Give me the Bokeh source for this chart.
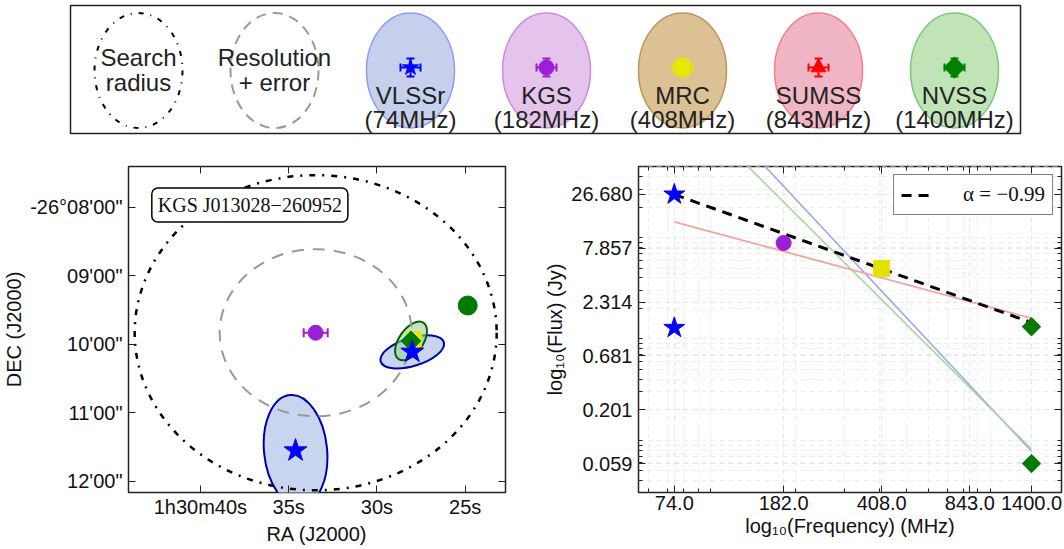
import numpy as np
from bokeh.plotting import figure
from bokeh.layouts import column, row
from bokeh.models import (Range1d, FixedTicker, LinearAxis, LogAxis, Label, Legend,
                          LegendItem, Whisker, ColumnDataSource, TeeHead, CustomJSTickFormatter)
from bokeh.embed import file_html
from bokeh.resources import INLINE
from bokeh.core.properties import value

FONT = "Liberation Sans"
SERIF = "Liberation Serif"

# ---------------- data ----------------
legend_names = ["VLSSr", "KGS", "MRC", "SUMSS", "NVSS"]
legend_freqs = ["(74MHz)", "(182MHz)", "(408MHz)", "(843MHz)", "(1400MHz)"]
legend_markers = ["star", "circle", "square", "triangle", "square"]
legend_marker_angles = [0.0, 0.0, 0.0, 0.0, 0.785398]
marker_colors = ["#0000ff", "#9a1fd6", "#e8e800", "#ff0000", "#008000"]
patch_fill = ["#c6d0ec", "#e4c4ea", "#dcc194", "#f1b6c6", "#c0e4b8"]
patch_edge = ["#8c9cf6", "#c98ae6", "#b8955c", "#f77c84", "#7cc67c"]

# sky map (RA seconds after 01h30m, Dec arcmin below -26 deg)
ra_ticks = [40, 35, 30, 25]
ra_tick_labels = ["1h30m40s", "35s", "30s", "25s"]
dec_ticks = [-8, -9, -10, -11, -12]
dec_tick_labels = ["-26\u00b008'00\"", "09'00\"", "10'00\"", "11'00\"", "12'00\""]
cos_dec = np.cos(np.radians(26.16))

kgs_ra = [33.47]
kgs_dec = [-9.83]
kgs_ra_err = [0.68]
search_radius_arcmin = 2.3
resolution_radius_arcmin = 1.22

vlssr_ra = [34.61, 28.00]
vlssr_dec = [-11.55, -10.11]
vlssr_ell_w = [3.57, 3.74]     # RA seconds
vlssr_ell_h = [1.63, 0.41]     # arcmin
vlssr_ell_ang = [0.10, 0.30]

nvss_ra = [28.07]
nvss_dec = [-9.95]
nvss_ell_w = [2.49]
nvss_ell_h = [0.35]
nvss_ell_ang = [0.96]
nvss2_ra = [24.86]
nvss2_dec = [-9.433]
mrc_ra = [27.91]
mrc_dec = [-9.927]

# spectrum
vlssr_freq = [74, 74]
vlssr_flux = [26.68, 1.29]
kgs_freq = [182]
kgs_flux = [8.86]
mrc_freq = [408]
mrc_flux = [4.97]
nvss_freq = [1400, 1400]
nvss_flux = [1.32, 0.059]
fit_freq = [74, 1400]
fit_flux = [26.68, 1.45]
pink_freq = [74, 1400]
pink_flux = [14.3, 1.60]
blue_freq = [74, 1400]
blue_flux = [456.0, 0.078]
green_freq = [74, 1400]
green_flux = [267.0, 0.082]
freq_ticks = [74, 182, 408, 843, 1400]
flux_ticks = [26.680, 7.857, 2.314, 0.681, 0.201, 0.059]
fit_label = "\u03b1 = \u22120.99"
source_name = "KGS J013028\u2212260952"

W = 1062

# ---------------- top legend strip ----------------
p0 = figure(frame_width=W, frame_height=157, x_range=Range1d(0, W), y_range=Range1d(157, 0),
            min_border=0, x_axis_location=None, y_axis_location=None,
            output_backend="svg", toolbar_location=None)
p0.grid.visible = False
p0.outline_line_color = None
p0.quad(left=[70], right=[1020], top=[5], bottom=[133], fill_color=None,
        line_color="#222222", line_width=1.5)
step = 136.0
cxs = [138 + i * step for i in range(7)]
cy = 70
p0.ellipse(x=[cxs[0]], y=[cy], width=[88], height=[115], fill_color=None,
           line_color="black", line_width=2, line_dash="5 7 1 7")
p0.ellipse(x=[cxs[1]], y=[cy], width=[88], height=[115], fill_color=None,
           line_color="#999999", line_width=2, line_dash="10 7")
p0.text(x=[cxs[0], cxs[0], cxs[1], cxs[1]], y=[57, 82, 57, 82],
        text=["Search", "radius", "Resolution", "+ error"],
        text_align="center", text_baseline="middle", text_font=value(FONT),
        text_font_size="24px", text_color="#222222")
for i, name in enumerate(legend_names):
    x = cxs[i + 2]
    p0.ellipse(x=[x], y=[cy], width=[88], height=[115], fill_color=patch_fill[i],
               line_color=patch_edge[i], line_width=1.5)
    my = 67
    c = marker_colors[i]
    p0.segment(x0=[x - 10, x, x - 10, x + 10, x - 4, x - 4],
               y0=[my, my - 9, my - 4, my - 4, my - 9, my + 9],
               x1=[x + 10, x, x - 10, x + 10, x + 4, x + 4],
               y1=[my, my + 9, my + 4, my + 4, my - 9, my + 9],
               line_color=c, line_width=2)
    p0.scatter(x=[x], y=[my], marker=legend_markers[i], angle=legend_marker_angles[i],
               size=15 if legend_markers[i] != "star" else 17,
               fill_color=c, line_color=c)
    p0.text(x=[x, x], y=[95, 119], text=[name, legend_freqs[i]],
            text_align="center", text_baseline="middle", text_font=value(FONT),
            text_font_size="24px", text_color="#222222")


def style_axis(ax, size="20px", standoff=6):
    ax.major_label_text_font = FONT
    ax.major_label_text_font_size = size
    ax.major_label_text_color = "#111111"
    ax.axis_label_text_font = FONT
    ax.axis_label_text_font_size = "20px"
    ax.axis_label_text_font_style = "normal"
    ax.axis_label_text_color = "#111111"
    ax.major_tick_in = 7
    ax.major_tick_out = 0
    ax.minor_tick_in = 4
    ax.minor_tick_out = 0
    ax.major_tick_line_color = "#222222"
    ax.minor_tick_line_color = "#222222"
    ax.axis_line_color = None
    ax.major_label_standoff = standoff
    ax.axis_label_standoff = 2


def mirror_axis(cls, ticker):
    return cls(ticker=ticker, formatter=CustomJSTickFormatter(code="return '';"),
               major_label_text_font_size="1px", major_label_standoff=0,
               major_tick_in=7, major_tick_out=0, minor_tick_in=4, minor_tick_out=0,
               axis_line_color=None, major_tick_line_color="#222222",
               minor_tick_line_color="#222222")


# ---------------- left: sky map ----------------
p1 = figure(frame_width=377, frame_height=326,
            x_range=Range1d(44.07, 22.72), y_range=Range1d(-12.162, -7.404),
            min_border_left=126, min_border_right=20, min_border_top=9, min_border_bottom=56,
            output_backend="svg", toolbar_location=None)
p1.grid.visible = False
p1.outline_line_color = "#222222"
p1.outline_line_width = 1.5

p1.ellipse(x=vlssr_ra, y=vlssr_dec, width=vlssr_ell_w, height=vlssr_ell_h, angle=vlssr_ell_ang,
           fill_color="#c9d5ee", line_color="#0000aa", line_width=2)
p1.ellipse(x=nvss_ra, y=nvss_dec, width=nvss_ell_w, height=nvss_ell_h, angle=nvss_ell_ang,
           fill_color="#9fd09a", fill_alpha=0.6, line_color="#006400", line_width=2)
sr_w = 2 * search_radius_arcmin * 60 / (15 * cos_dec)
rr_w = 2 * resolution_radius_arcmin * 60 / (15 * cos_dec)
p1.ellipse(x=kgs_ra, y=kgs_dec, width=[sr_w], height=[2 * search_radius_arcmin],
           fill_color=None, line_color="black", line_width=2.5, line_dash="6 7 2 7")
p1.ellipse(x=kgs_ra, y=kgs_dec, width=[rr_w], height=[2 * resolution_radius_arcmin],
           fill_color=None, line_color="#999999", line_width=2, line_dash="12 9")

kgs_src = ColumnDataSource(dict(y=kgs_dec,
                                lo=[r - e for r, e in zip(kgs_ra, kgs_ra_err)],
                                hi=[r + e for r, e in zip(kgs_ra, kgs_ra_err)]))
p1.add_layout(Whisker(source=kgs_src, base="y", lower="lo", upper="hi", dimension="width",
                      line_color="#9a1fd6", line_width=2,
                      lower_head=TeeHead(size=9, line_color="#9a1fd6", line_width=2),
                      upper_head=TeeHead(size=9, line_color="#9a1fd6", line_width=2)))
p1.scatter(x=kgs_ra, y=kgs_dec, marker="circle", size=15, fill_color="#9a1fd6", line_color="#9a1fd6")
p1.scatter(x=nvss2_ra, y=nvss2_dec, marker="circle", size=19, fill_color="#007a00", line_color="#007a00")
p1.scatter(x=mrc_ra, y=mrc_dec, marker="square", size=15, fill_color="#e8e800", line_color="#e8e800")
p1.scatter(x=nvss_ra, y=nvss_dec, marker="square", angle=0.785398, size=14,
           fill_color="#007a00", line_color="#007a00")
p1.scatter(x=vlssr_ra, y=vlssr_dec, marker="star", size=24, fill_color="#0000ff", line_color="#0000ff")

p1.add_layout(Label(x=42.75, y=-7.966, text=source_name, text_font=SERIF, text_font_size="20px",
                    text_baseline="middle", text_align="left", text_color="#111111",
                    border_line_color="black", border_line_width=1.5, background_fill_color="white",
                    padding=6, border_radius=6))

rt = FixedTicker(ticks=ra_ticks, minor_ticks=[])
dt = FixedTicker(ticks=dec_ticks, minor_ticks=[])
p1.xaxis.ticker = rt
p1.yaxis.ticker = dt
p1.xaxis.major_label_overrides = {t: l for t, l in zip(ra_ticks, ra_tick_labels)}
p1.yaxis.major_label_overrides = {t: l for t, l in zip(dec_ticks, dec_tick_labels)}
p1.xaxis.axis_label = "RA (J2000)"
p1.yaxis.axis_label = "DEC (J2000)"
for ax in p1.xaxis:
    style_axis(ax, standoff=3)
for ax in p1.yaxis:
    style_axis(ax)
p1.add_layout(mirror_axis(LinearAxis, rt), "above")
p1.add_layout(mirror_axis(LinearAxis, dt), "right")

# ---------------- right: spectrum ----------------
p2 = figure(frame_width=423, frame_height=326, x_axis_type="log", y_axis_type="log",
            x_range=Range1d(55.1, 1792), y_range=Range1d(0.0306, 50.3),
            min_border_left=113, min_border_right=3, min_border_top=9, min_border_bottom=56,
            output_backend="svg", toolbar_location=None)
p2.outline_line_color = "#222222"
p2.outline_line_width = 1.5

x_minor = [m * 10 ** e for e in (1, 2, 3) for m in range(1, 10) if 50 < m * 10 ** e < 1800]
y_minor = [m * 10.0 ** e for e in (-2, -1, 0, 1) for m in range(1, 10) if 0.03 < m * 10.0 ** e < 51]
xt = FixedTicker(ticks=freq_ticks, minor_ticks=x_minor)
yt = FixedTicker(ticks=flux_ticks, minor_ticks=y_minor)
p2.xaxis.ticker = xt
p2.yaxis.ticker = yt
p2.xaxis.formatter = CustomJSTickFormatter(code="return tick.toFixed(1);")
p2.yaxis.formatter = CustomJSTickFormatter(code="return tick.toFixed(3);")
p2.xaxis.axis_label = "log\u2081\u2080(Frequency) (MHz)"
p2.yaxis.axis_label = "log\u2081\u2080(Flux) (Jy)"
for ax in p2.xaxis:
    style_axis(ax, standoff=3)
for ax in p2.yaxis:
    style_axis(ax)
p2.add_layout(mirror_axis(LogAxis, xt), "above")
p2.add_layout(mirror_axis(LogAxis, yt), "right")
for g in (p2.xgrid, p2.ygrid):
    g.grid_line_color = "#e6e6e6"
    g.grid_line_dash = "5 4"
    g.minor_grid_line_color = "#ececec"
    g.minor_grid_line_dash = "5 4"

p2.line(blue_freq, blue_flux, line_color="#a3a3f2", line_width=1.6)
p2.line(green_freq, green_flux, line_color="#a6d6a0", line_width=1.6)
p2.line(pink_freq, pink_flux, line_color="#f4a2a2", line_width=1.8)
fit_r = p2.line(fit_freq, fit_flux, line_color="black", line_width=3, line_dash="10 7")

p2.scatter(vlssr_freq, vlssr_flux, marker="star", size=22, fill_color="#0000ff", line_color="#0000ff")
p2.scatter(kgs_freq, kgs_flux, marker="circle", size=15, fill_color="#9a1fd6", line_color="#9a1fd6")
p2.scatter(mrc_freq, mrc_flux, marker="square", size=16, fill_color="#e2e200", line_color="#e2e200")
p2.scatter(nvss_freq, nvss_flux, marker="square", angle=0.785398, size=13,
           fill_color="#007a00", line_color="#007a00")

leg = Legend(items=[LegendItem(label=fit_label, renderers=[fit_r])], location="top_right",
             label_text_font=SERIF, label_text_font_size="21px", label_text_color="#111111",
             border_line_color="black", border_line_width=1.5, background_fill_alpha=1.0,
             glyph_width=34, label_standoff=28, padding=7, margin=8)
p2.add_layout(leg)

layout = column(p0, row(p1, p2, spacing=0), spacing=0)
open("out.html", "w").write(file_html(layout, INLINE))
